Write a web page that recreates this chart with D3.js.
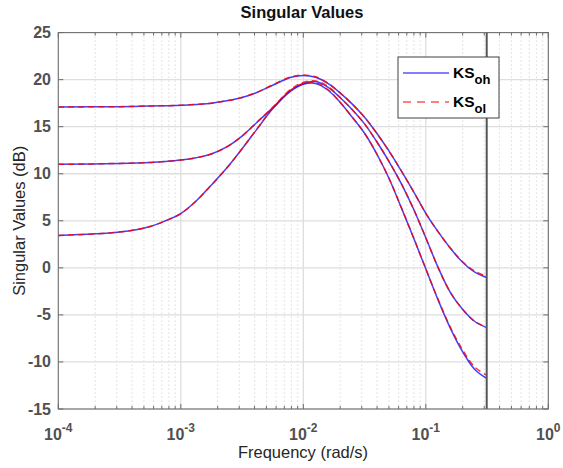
<!DOCTYPE html>
<html>
<head>
<meta charset="utf-8">
<script src="https://d3js.org/d3.v7.min.js"></script>
<style>
  body { margin: 0; background: #fff; }
  text { font-family: "Liberation Sans", Arial, Helvetica, sans-serif; }
</style>
</head>
<body>
<svg width="563" height="468"></svg>
<script>
// frequencies (rad/s), last point is the Nyquist frequency
var freqs = [1e-4, 3.162e-4, 5.623e-4, 7.499e-4, 1e-3, 1.334e-3, 1.778e-3, 2.371e-3,
             3.162e-3, 4.217e-3, 5.623e-3, 7.943e-3, 1e-2, 1.259e-2, 1.585e-2, 1.995e-2,
             2.512e-2, 3.162e-2, 3.981e-2, 5.012e-2, 6.310e-2, 7.943e-2, 0.1, 0.1259,
             0.1585, 0.1995, 0.2512, 0.3142];

// KS_oh singular values (dB)
var ohSv1 = [17.1, 17.13, 17.2, 17.23, 17.27, 17.37, 17.5, 17.75, 18.1, 18.65, 19.4, 20.25,
             20.45, 20.25, 19.6, 18.6, 17.4, 16.0, 14.3, 12.4, 10.3, 8.1, 5.8, 3.85,
             2.1, 0.6, -0.45, -1.02];
var ohSv2 = [11.0, 11.1, 11.2, 11.3, 11.45, 11.7, 12.1, 12.85, 14.0, 15.5, 17.0, 18.9,
             19.6, 19.8, 19.2, 18.1, 16.8, 15.3, 13.4, 11.3, 8.95, 6.25, 3.2, 0.05,
             -2.6, -4.4, -5.7, -6.35];
var ohSv3 = [3.45, 3.8, 4.4, 5.0, 5.77, 7.1, 8.8, 10.6, 12.65, 14.8, 16.9, 18.8,
             19.5, 19.6, 18.9, 17.6, 16.0, 14.3, 12.1, 9.5, 6.4, 3.2, -0.1, -3.4,
             -6.4, -8.9, -10.8, -11.75];

// KS_ol singular values (dB)
var olSv1 = [17.1, 17.13, 17.2, 17.23, 17.27, 17.37, 17.5, 17.75, 18.1, 18.68, 19.45, 20.3,
             20.5, 20.3, 19.65, 18.6, 17.4, 16.0, 14.3, 12.4, 10.3, 8.1, 5.8, 3.85,
             2.1, 0.65, -0.35, -0.9];
var olSv2 = [11.0, 11.1, 11.2, 11.3, 11.45, 11.7, 12.1, 12.85, 14.0, 15.52, 17.05, 19.0,
             19.7, 19.85, 19.3, 18.1, 16.8, 15.3, 13.4, 11.3, 8.95, 6.25, 3.2, 0.05,
             -2.6, -4.4, -5.7, -6.3];
var olSv3 = [3.45, 3.8, 4.4, 5.0, 5.77, 7.1, 8.8, 10.6, 12.65, 14.82, 16.95, 18.9,
             19.6, 19.7, 18.95, 17.6, 16.0, 14.3, 12.1, 9.5, 6.4, 3.2, -0.1, -3.35,
             -6.3, -8.7, -10.55, -11.4];

var yTicks = [-15, -10, -5, 0, 5, 10, 15, 20, 25];
var xTicks = [1e-4, 1e-3, 1e-2, 1e-1, 1];
var xTickExp = ["-4", "-3", "-2", "-1", "0"];
var nyquist = 0.3142;

var svg = d3.select("svg");
var pLeft = 58.3, pRight = 548.3, pTop = 32.6, pBottom = 409;

var x = d3.scaleLog().domain([1e-4, 1]).range([pLeft, pRight]);
var y = d3.scaleLinear().domain([-15, 25]).range([pBottom, pTop]);

// minor frequencies
var minor = [];
for (var e = -4; e < 0; e++) {
    for (var m = 2; m <= 9; m++) minor.push(m * Math.pow(10, e));
}

var grid = svg.append("g");
grid.selectAll(".minor").data(minor).enter().append("line")
    .attr("x1", d => x(d)).attr("x2", d => x(d))
    .attr("y1", pTop).attr("y2", pBottom)
    .attr("stroke", "#c8c8c8").attr("stroke-width", 1)
    .attr("stroke-dasharray", "1,3");
grid.selectAll(".majx").data(xTicks).enter().append("line")
    .attr("x1", d => x(d)).attr("x2", d => x(d))
    .attr("y1", pTop).attr("y2", pBottom)
    .attr("stroke", "#dedede").attr("stroke-width", 1.3);
grid.selectAll(".majy").data(yTicks).enter().append("line")
    .attr("x1", pLeft).attr("x2", pRight)
    .attr("y1", d => y(d)).attr("y2", d => y(d))
    .attr("stroke", "#dedede").attr("stroke-width", 1.3);

// curves
var line = d3.line()
    .x(function (d) { return x(d[0]); })
    .y(function (d) { return y(d[1]); })
    .curve(d3.curveCatmullRom.alpha(0.5));

function pts(vals) {
    return freqs.map(function (f, i) { return [f, vals[i]]; });
}

var curves = svg.append("g").attr("fill", "none");
[ohSv1, ohSv2, ohSv3].forEach(function (s) {
    curves.append("path").attr("d", line(pts(s)))
        .attr("stroke", "#0000ff").attr("stroke-width", 1.5).attr("opacity", 0.75);
});
[olSv1, olSv2, olSv3].forEach(function (s) {
    curves.append("path").attr("d", line(pts(s)))
        .attr("stroke", "#ff0000").attr("stroke-width", 1.5).attr("opacity", 0.8)
        .attr("stroke-dasharray", "6,4");
});

// nyquist line
svg.append("line")
    .attr("x1", x(nyquist)).attr("x2", x(nyquist))
    .attr("y1", pTop).attr("y2", pBottom)
    .attr("stroke", "#555").attr("stroke-width", 2);

// box + ticks
var axes = svg.append("g").attr("stroke", "#6b6b6b");
axes.append("rect").attr("x", pLeft).attr("y", pTop)
    .attr("width", pRight - pLeft).attr("height", pBottom - pTop)
    .attr("fill", "none").attr("stroke-width", 1);
xTicks.forEach(function (d) {
    axes.append("line").attr("x1", x(d)).attr("x2", x(d)).attr("y1", pBottom).attr("y2", pBottom - 5);
    axes.append("line").attr("x1", x(d)).attr("x2", x(d)).attr("y1", pTop).attr("y2", pTop + 5);
});
minor.forEach(function (d) {
    axes.append("line").attr("x1", x(d)).attr("x2", x(d)).attr("y1", pBottom).attr("y2", pBottom - 3);
    axes.append("line").attr("x1", x(d)).attr("x2", x(d)).attr("y1", pTop).attr("y2", pTop + 3);
});
yTicks.forEach(function (d) {
    axes.append("line").attr("x1", pLeft).attr("x2", pLeft + 5).attr("y1", y(d)).attr("y2", y(d));
    axes.append("line").attr("x1", pRight).attr("x2", pRight - 5).attr("y1", y(d)).attr("y2", y(d));
});

// tick labels
svg.selectAll(".ylab").data(yTicks).enter().append("text")
    .attr("x", 51).attr("y", d => y(d) + 5.5)
    .attr("text-anchor", "end")
    .attr("fill", "#505050").style("font-size", "16px").style("font-weight", "bold")
    .text(d => d);

xTicks.forEach(function (d, i) {
    var t = svg.append("text")
        .attr("x", x(d)).attr("y", 440)
        .attr("text-anchor", "middle")
        .attr("fill", "#505050").style("font-size", "16px").style("font-weight", "bold");
    t.append("tspan").text("10");
    t.append("tspan").attr("dy", -8).style("font-size", "12px").text(xTickExp[i]);
});

// titles
svg.append("text").attr("x", 302).attr("y", 18)
    .attr("text-anchor", "middle").attr("fill", "#111")
    .style("font-size", "16.5px").style("font-weight", "bold")
    .text("Singular Values");
svg.append("text").attr("x", 303).attr("y", 458)
    .attr("text-anchor", "middle").attr("fill", "#262626")
    .style("font-size", "16.5px")
    .text("Frequency (rad/s)");
svg.append("text")
    .attr("transform", "translate(24.5," + ((pTop + pBottom) / 2) + ") rotate(-90)")
    .attr("text-anchor", "middle").attr("fill", "#262626")
    .style("font-size", "16.5px")
    .text("Singular Values (dB)");

// legend
var lg = svg.append("g").attr("transform", "translate(398,57)");
lg.append("rect").attr("width", 101).attr("height", 61)
    .attr("fill", "#fff").attr("stroke", "#404040").attr("stroke-width", 1);
lg.append("line").attr("x1", 5).attr("x2", 51).attr("y1", 16).attr("y2", 16)
    .attr("stroke", "#0000ff").attr("stroke-width", 1.2);
lg.append("line").attr("x1", 5).attr("x2", 51).attr("y1", 45).attr("y2", 45)
    .attr("stroke", "#ff0000").attr("stroke-width", 1.2).attr("stroke-dasharray", "8,6");
[["oh", 21], ["ol", 50]].forEach(function (p) {
    var t = lg.append("text").attr("x", 55).attr("y", p[1])
        .attr("fill", "#000").style("font-size", "15.5px").style("font-weight", "bold");
    t.append("tspan").text("KS");
    t.append("tspan").attr("dy", 6).style("font-size", "13px").text(p[0]);
});
</script>
</body>
</html>
